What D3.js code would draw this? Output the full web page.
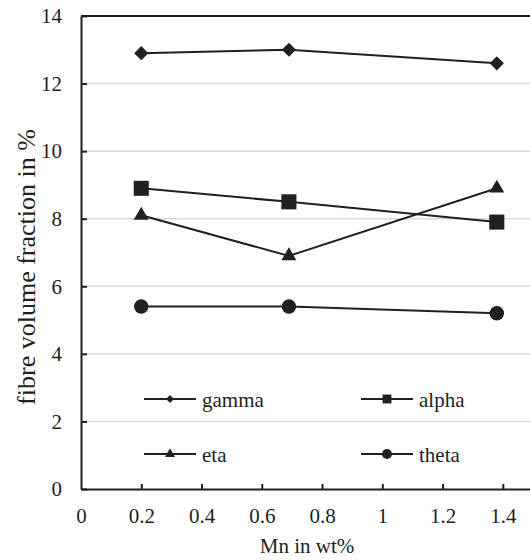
<!DOCTYPE html>
<html>
<head>
<meta charset="utf-8">
<script src="https://cdn.jsdelivr.net/npm/d3@7"></script>
<style>
  body { margin: 0; background: #fff; }
  svg { display: block; }
</style>
</head>
<body>
<div id="chart"></div>
<script>
// data
const mnValues = [0.2, 0.69, 1.38];
const gamma = [12.9, 13.0, 12.6];
const alpha = [8.9, 8.5, 7.9];
const eta = [8.1, 6.9, 8.9];
const theta = [5.4, 5.4, 5.2];
const seriesNames = ['gamma', 'alpha', 'eta', 'theta'];
const xTicks = [0, 0.2, 0.4, 0.6, 0.8, 1, 1.2, 1.4];
const yTicks = [0, 2, 4, 6, 8, 10, 12, 14];

const series = [
    { name: 'gamma', values: gamma, symbol: d3.symbolDiamond2, size: 128, legendSize: 42 },
    { name: 'alpha', values: alpha, symbol: d3.symbolSquare2, size: 289, legendSize: 100 },
    { name: 'eta', values: eta, symbol: d3.symbolTriangle2, size: 160, legendSize: 72 },
    { name: 'theta', values: theta, symbol: d3.symbolCircle, size: 165, legendSize: 80 }
];

const width = 530, height = 560;
const margin = { left: 81, top: 16, bottom: 71 };
const ink = '#231f20';
const font = 'Liberation Serif';
const fontSize = 21;

const svg = d3.select('#chart').append('svg')
    .attr('width', width)
    .attr('height', height);

const x = d3.scaleLinear().domain([0, 1.5]).range([margin.left, margin.left + 1.5 * 301.3]);
const y = d3.scaleLinear().domain([0, 14]).range([height - margin.bottom, margin.top]);

// gridlines
svg.append('g')
    .selectAll('line')
    .data(yTicks.filter(d => d > 0 && d < 14))
    .join('line')
    .attr('x1', x(0)).attr('x2', width)
    .attr('y1', d => y(d)).attr('y2', d => y(d))
    .attr('stroke', '#d9d9d9')
    .attr('stroke-width', 1.5);

// top frame
svg.append('line')
    .attr('x1', x(0)).attr('x2', width)
    .attr('y1', y(14)).attr('y2', y(14))
    .attr('stroke', ink).attr('stroke-width', 2);

// axes
const xAxis = svg.append('g')
    .attr('transform', `translate(0,${y(0)})`)
    .call(d3.axisBottom(x).tickValues(xTicks).tickFormat(d3.format('')).tickSizeInner(-5).tickSizeOuter(0).tickPadding(19));
const yAxis = svg.append('g')
    .attr('transform', `translate(${x(0)},0)`)
    .call(d3.axisLeft(y).tickValues(yTicks).tickSizeInner(-6).tickSizeOuter(0).tickPadding(19));

[xAxis, yAxis].forEach(a => {
    a.attr('font-family', font).attr('font-size', fontSize);
    a.select('.domain').attr('stroke', ink).attr('stroke-width', 2);
    a.selectAll('.tick line').attr('stroke', ink).attr('stroke-width', 2);
    a.selectAll('.tick text').attr('fill', ink).attr('font-family', font);
});
xAxis.select('.tick line').remove();

// series lines and markers
const line = d3.line().x((d, i) => x(mnValues[i])).y(d => y(d));

series.forEach(s => {
    svg.append('path')
        .datum(s.values)
        .attr('d', line)
        .attr('fill', 'none')
        .attr('stroke', ink)
        .attr('stroke-width', 2);
    svg.append('g')
        .selectAll('path')
        .data(s.values)
        .join('path')
        .attr('transform', (d, i) => `translate(${x(mnValues[i])},${y(d)})`)
        .attr('d', d3.symbol(s.symbol, s.size))
        .attr('fill', ink);
});

// legend
const legendPos = [
    { lx: 144, ly: 399 },
    { lx: 361, ly: 399 },
    { lx: 144, ly: 454 },
    { lx: 361, ly: 454 }
];
series.forEach((s, i) => {
    const p = legendPos[i];
    const g = svg.append('g').attr('transform', `translate(${p.lx},${p.ly})`);
    g.append('line').attr('x1', 0).attr('x2', 52).attr('y1', 0).attr('y2', 0)
        .attr('stroke', ink).attr('stroke-width', 2);
    g.append('path').attr('transform', 'translate(26,0)')
        .attr('d', d3.symbol(s.symbol, s.legendSize)).attr('fill', ink);
    g.append('text').attr('x', 58).attr('y', 7.5)
        .attr('fill', ink)
        .attr('font-family', font).attr('font-size', fontSize)
        .text(seriesNames[i]);
});

// axis titles
svg.append('text')
    .attr('x', 307).attr('y', 553)
    .attr('text-anchor', 'middle')
    .attr('fill', ink)
    .attr('font-family', font).attr('font-size', fontSize)
    .text('Mn in wt%');
svg.append('text')
    .attr('transform', `translate(35,267) rotate(-90)`)
    .attr('text-anchor', 'middle')
    .attr('fill', ink)
    .attr('font-family', font).attr('font-size', 26)
    .text('fibre volume fraction in %');
</script>
</body>
</html>
